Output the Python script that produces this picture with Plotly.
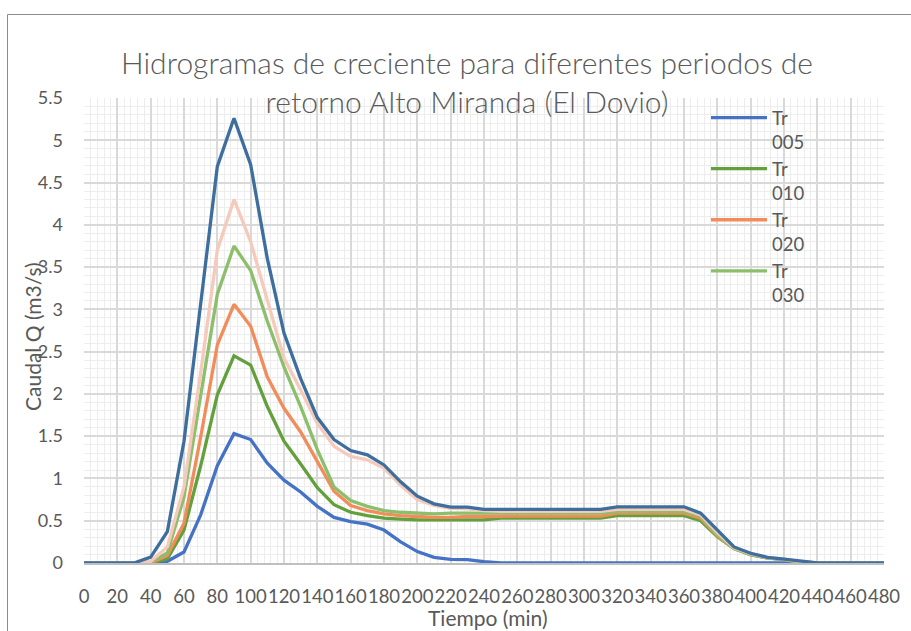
import plotly.graph_objects as go

# ---- data ----
tiempo = [0, 10, 20, 30, 40, 50, 60, 70, 80, 90, 100, 110, 120, 130, 140, 150, 160, 170, 180, 190,
          200, 210, 220, 230, 240, 250, 260, 270, 280, 290, 300, 310, 320, 330, 340, 350, 360, 370,
          380, 390, 400, 410, 420, 430, 440, 450, 460, 470, 480]

tr005 = [0, 0, 0, 0, 0, 0.02, 0.13, 0.57, 1.15, 1.53, 1.46, 1.18, 0.98, 0.84, 0.67, 0.54, 0.49, 0.46, 0.39, 0.25,
         0.135, 0.067, 0.044, 0.04, 0.015, 0, 0, 0, 0, 0, 0, 0, 0, 0, 0, 0, 0, 0,
         0, 0, 0, 0, 0, 0, 0, 0, 0, 0, 0]

tr010 = [0, 0, 0, 0, 0, 0.05, 0.39, 1.15, 1.99, 2.45, 2.34, 1.85, 1.44, 1.17, 0.89, 0.69, 0.60, 0.56, 0.53, 0.52,
         0.51, 0.51, 0.51, 0.51, 0.51, 0.53, 0.53, 0.53, 0.53, 0.53, 0.53, 0.53, 0.56, 0.56, 0.56, 0.56, 0.56, 0.50,
         0.31, 0.17, 0.10, 0.06, 0.04, 0.01, 0, 0, 0, 0, 0]

tr020 = [0, 0, 0, 0, 0, 0.09, 0.47, 1.49, 2.58, 3.06, 2.80, 2.20, 1.83, 1.55, 1.20, 0.85, 0.68, 0.62, 0.58, 0.56,
         0.55, 0.54, 0.54, 0.55, 0.55, 0.555, 0.555, 0.555, 0.555, 0.555, 0.555, 0.555, 0.59, 0.59, 0.59, 0.59, 0.59, 0.53,
         0.32, 0.17, 0.10, 0.06, 0.04, 0.01, 0, 0, 0, 0, 0]

tr030 = [0, 0, 0, 0, 0.01, 0.12, 0.78, 2.00, 3.18, 3.75, 3.46, 2.86, 2.32, 1.85, 1.34, 0.90, 0.74, 0.67, 0.62, 0.60,
         0.59, 0.58, 0.59, 0.59, 0.59, 0.59, 0.59, 0.59, 0.59, 0.59, 0.59, 0.59, 0.61, 0.61, 0.61, 0.61, 0.61, 0.55,
         0.33, 0.17, 0.10, 0.06, 0.04, 0.01, 0, 0, 0, 0, 0]

tr050 = [0, 0, 0, 0, 0.02, 0.19, 0.90, 2.25, 3.70, 4.30, 3.80, 3.12, 2.42, 2.05, 1.65, 1.38, 1.26, 1.22, 1.12, 0.92,
         0.75, 0.68, 0.645, 0.64, 0.62, 0.61, 0.61, 0.61, 0.61, 0.61, 0.61, 0.61, 0.635, 0.635, 0.635, 0.635, 0.635, 0.57,
         0.36, 0.18, 0.11, 0.065, 0.045, 0.015, 0, 0, 0, 0, 0]

tr100 = [0, 0, 0, 0, 0.07, 0.37, 1.44, 3.10, 4.69, 5.26, 4.71, 3.60, 2.72, 2.18, 1.72, 1.46, 1.33, 1.28, 1.16, 0.96,
         0.79, 0.70, 0.66, 0.66, 0.635, 0.635, 0.635, 0.635, 0.635, 0.635, 0.635, 0.635, 0.665, 0.665, 0.665, 0.665, 0.665, 0.59,
         0.39, 0.19, 0.115, 0.067, 0.047, 0.02, 0, 0, 0, 0, 0]

series_names = ["Tr<br>005", "Tr<br>010", "Tr<br>020", "Tr<br>030", "Tr<br>050", "Tr<br>100"]
series_values = [tr005, tr010, tr020, tr030, tr050, tr100]
series_colors = ["#4472C4", "#62A03C", "#F28C5A", "#8CBF6B", "#F6CABA", "#3D6E9E"]
series_in_legend = [True, True, True, True, False, False]

x_ticks = [str(v) for v in range(0, 481, 20)]

title_text = "Hidrogramas de creciente para diferentes periodos de<br>retorno Alto Miranda (El Dovio)"
y_title = "Caudal Q (m3/s)"
x_title = "Tiempo (min)"

FONT = "Lato, 'Open Sans', sans-serif"
GREY = "#595959"

fig = go.Figure()
for name, vals, col, leg in zip(series_names, series_values, series_colors, series_in_legend):
    fig.add_trace(go.Scatter(x=tiempo, y=vals, mode="lines", name=name,
                             line=dict(color=col, width=3.3), showlegend=leg))

PL, PR, PT, PB = 84, 884, 98, 563
W, H = 911, 631

def px_to_paper_x(px):
    return (px - PL) / (PR - PL)

def px_to_paper_y(py):
    return (PB - py) / (PB - PT)

fig.update_layout(
    width=W, height=H,
    margin=dict(l=PL, r=W - PR, t=PT, b=H - PB, pad=0, autoexpand=False),
    paper_bgcolor="white", plot_bgcolor="white",
    font=dict(family=FONT, color=GREY, size=18),
    title=dict(text=title_text, x=467 / W, xref="container", xanchor="center",
               y=1 - 74 / H, yref="container", yanchor="middle",
               font=dict(family=FONT, size=30, color=GREY, weight=300)),
    showlegend=True,
    legend=dict(x=px_to_paper_x(706), y=px_to_paper_y(99), xanchor="left", yanchor="top",
                bgcolor="rgba(0,0,0,0)", font=dict(size=18.5, color=GREY, family=FONT),
                valign="top", tracegroupgap=0, itemwidth=56),
    xaxis=dict(range=[0, 480], tickmode="array", tickvals=[int(t) for t in x_ticks], ticktext=x_ticks,
               tickangle=0, automargin=False,
               showgrid=True, gridcolor="#D9D9D9", gridwidth=1.5,
               minor=dict(dtick=4, showgrid=True, gridcolor="#EDEDED", gridwidth=1.3),
               showline=True, linecolor="#BFBFBF", linewidth=1.5, zeroline=False,
               ticks="", ticklabelstandoff=16, tickfont=dict(size=18.5, color=GREY, family=FONT)),
    yaxis=dict(range=[0, 5.5], dtick=0.5, tick0=0, automargin=False,
               showgrid=True, gridcolor="#D9D9D9", gridwidth=1.5,
               minor=dict(dtick=0.1, showgrid=True, gridcolor="#EDEDED", gridwidth=1.3),
               showline=False, zeroline=False, ticks="", ticklabelstandoff=20,
               tickfont=dict(size=18, color=GREY, family=FONT)),
)

fig.add_annotation(text=y_title, xref="paper", yref="paper", x=px_to_paper_x(32), y=px_to_paper_y(337),
                   textangle=-90, showarrow=False, xanchor="center", yanchor="middle",
                   font=dict(size=21, color=GREY, family=FONT))
fig.add_annotation(text=x_title, xref="paper", yref="paper", x=px_to_paper_x(488), y=px_to_paper_y(617),
                   showarrow=False, xanchor="center", yanchor="middle",
                   font=dict(size=21, color=GREY, family=FONT))

# outer chart border
fig.add_shape(type="rect", xref="paper", yref="paper",
              x0=px_to_paper_x(7.5), x1=px_to_paper_x(930), y0=px_to_paper_y(660), y1=px_to_paper_y(14.5),
              line=dict(color="#8C8C8C", width=1), fillcolor="rgba(0,0,0,0)", layer="below")

fig.write_html("out.html", config={"displayModeBar": False},
               post_script="document.body.style.margin='0';document.body.style.overflow='hidden';")
